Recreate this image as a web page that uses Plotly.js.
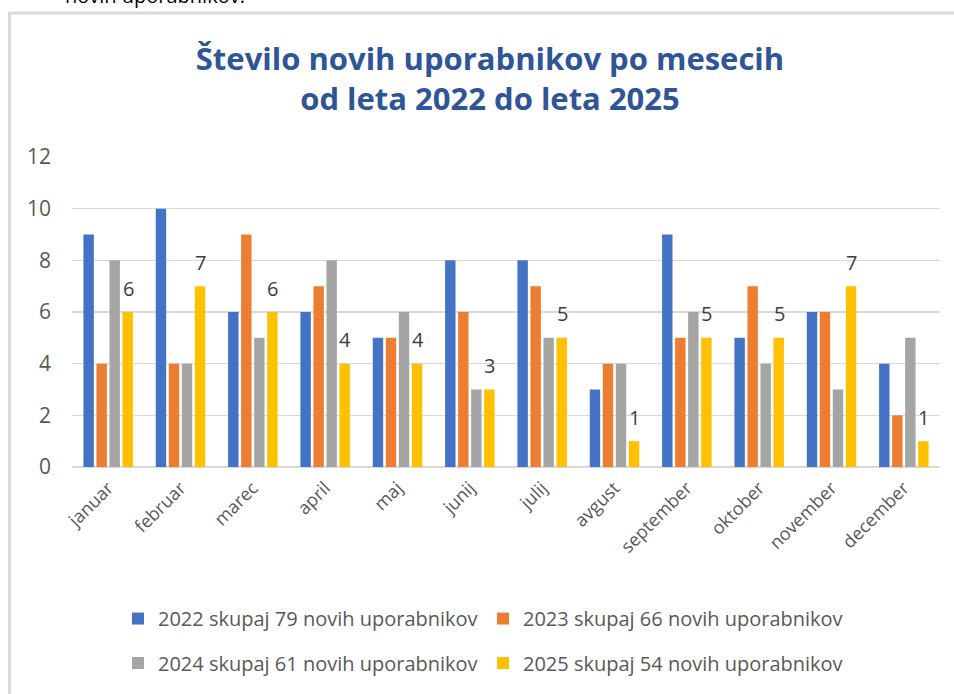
<!DOCTYPE html>
<html>
<head>
<meta charset="utf-8">
<script src="https://cdn.plot.ly/plotly-3.0.1.min.js"></script>
<style>
html,body{margin:0;padding:0;background:#fff;}
#chart{width:954px;height:694px;}
</style>
</head>
<body>
<div id="chart"></div>
<script>
const months = ["januar","februar","marec","april","maj","junij","julij","avgust","september","oktober","november","december"];
const seriesNames = ["2022 skupaj 79 novih uporabnikov","2023 skupaj 66 novih uporabnikov","2024 skupaj 61 novih uporabnikov","2025 skupaj 54 novih uporabnikov"];
const v2022 = [9,10,6,6,5,8,8,3,9,5,6,4];
const v2023 = [4,4,9,7,5,6,7,4,5,7,6,2];
const v2024 = [8,4,5,8,6,3,5,4,6,4,3,5];
const v2025 = [6,7,6,4,4,3,5,1,5,5,7,1];
const colors = ["#4472C4","#ED7D31","#A5A5A5","#FFC000"];
const yTicks = [0,2,4,6,8,10,12];

const allVals = [v2022,v2023,v2024,v2025];
const legendIds = ['legend','legend','legend2','legend2'];
const traces = allVals.map((vals,i)=>({
  type:'bar', x:months, y:vals, name:seriesNames[i],
  marker:{color:colors[i], line:{width:0}},
  legend:legendIds[i],
  hoverinfo:'x+y+name'
}));

// plot-area geometry (px)
const L=72, R=14, T=157, B=224, W=954, H=694;
const pw = W-L-R, ph = H-T-B;
const px2x = p => (p-L)/pw;
const py2y = p => (H-B-p)/ph;

const annotations = months.map((m,i)=>({
  x:m, y:v2025[i], xref:'x', yref:'y', text:String(v2025[i]),
  showarrow:false, xshift:20, yshift:24,
  font:{family:'Open Sans, Noto Sans, sans-serif', size:20, color:'#404040'}
}));
annotations.push({
  xref:'paper', yref:'paper', x:px2x(247), y:py2y(-6), xanchor:'right', yanchor:'middle',
  text:'novih uporabnikov.', showarrow:false,
  font:{family:'Open Sans, sans-serif', size:20, color:'#000'}
});

const legendFont = {family:'Open Sans, Noto Sans, sans-serif', size:20, color:'#595959'};
const legendBase = {
  orientation:'h', xanchor:'center', yanchor:'middle',
  entrywidth:320, entrywidthmode:'pixels', itemwidth:30,
  font:legendFont, bgcolor:'rgba(0,0,0,0)'
};

const layout = {
  width:W, height:H,
  margin:{l:L, r:R, t:T, b:B, pad:0},
  paper_bgcolor:'#fff', plot_bgcolor:'#fff',
  title:{
    text:'Število novih uporabnikov po mesecih<br>od leta 2022 do leta 2025',
    font:{family:'Open Sans, sans-serif', size:31, color:'#2F5597', weight:'bold'},
    x:px2x(490), xref:'paper', xanchor:'center',
    y:1-70/H, yref:'container', yanchor:'middle'
  },
  barmode:'group', bargap:0.28, bargroupgap:0.2,
  xaxis:{
    type:'category', showgrid:false, zeroline:false, showline:false,
    ticks:'', tickangle:-45, ticklabelstandoff:6,
    tickfont:{family:'Open Sans, Noto Sans, sans-serif', size:18, color:'#595959'}
  },
  yaxis:{
    range:[0,12], tickvals:yTicks, ticktext:yTicks.map(String),
    showgrid:true, gridcolor:'#D9D9D9', gridwidth:1.5,
    zeroline:true, zerolinecolor:'#D9D9D9', zerolinewidth:1.5,
    showline:false, ticks:'', ticklabelstandoff:20,
    tickfont:{family:'Open Sans, Noto Sans, sans-serif', size:21, color:'#595959'}
  },
  legend:Object.assign({}, legendBase, {x:px2x(483), y:py2y(623)}),
  legend2:Object.assign({}, legendBase, {x:px2x(483), y:py2y(668)}),
  annotations:annotations,
  shapes:[
    {type:'path', xref:'paper', yref:'paper',
     path:`M ${px2x(9.5)},${py2y(700)} L ${px2x(9.5)},${py2y(11.5)} L ${px2x(960)},${py2y(11.5)}`,
     line:{color:'#D9D9D9', width:3}}
  ],
  showlegend:true
};

Plotly.newPlot('chart', traces, layout, {displayModeBar:false, staticPlot:true});
</script>
</body>
</html>
